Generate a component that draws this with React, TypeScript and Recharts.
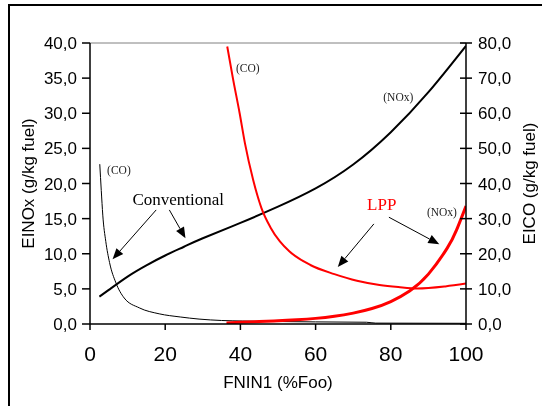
import React from 'react';
import { LineChart, Line, XAxis, YAxis, ReferenceLine, ReferenceDot } from 'recharts';

// FNIN1 (%Foo) vs emission index values
const conventionalNOx = [
  { fnin: 2.5, value: 3.9 }, { fnin: 5, value: 4.85 }, { fnin: 10, value: 6.75 },
  { fnin: 15, value: 8.35 }, { fnin: 20, value: 9.75 }, { fnin: 25, value: 11.0 },
  { fnin: 30, value: 12.2 }, { fnin: 40, value: 14.4 }, { fnin: 50, value: 16.7 },
  { fnin: 60, value: 19.3 }, { fnin: 70, value: 22.7 }, { fnin: 80, value: 27.3 },
  { fnin: 90, value: 33.0 }, { fnin: 100, value: 39.6 },
];
const conventionalCO = [
  { fnin: 2.6, value: 45.5 }, { fnin: 3.0, value: 38 }, { fnin: 3.4, value: 31 },
  { fnin: 4.2, value: 23.5 }, { fnin: 5.2, value: 17.5 }, { fnin: 6.9, value: 11.7 },
  { fnin: 9.1, value: 7.4 }, { fnin: 13.1, value: 4.6 }, { fnin: 18.4, value: 2.9 },
  { fnin: 24, value: 2.0 }, { fnin: 29, value: 1.4 }, { fnin: 35, value: 1.0 },
  { fnin: 40.6, value: 0.85 }, { fnin: 50, value: 0.7 }, { fnin: 60, value: 0.6 },
  { fnin: 73.5, value: 0.5 }, { fnin: 76, value: 0.25 }, { fnin: 100, value: 0.2 },
];
const lppCO = [
  { fnin: 36.5, value: 79 }, { fnin: 38, value: 70 }, { fnin: 39.8, value: 60 },
  { fnin: 41.2, value: 51.5 }, { fnin: 43.4, value: 41 }, { fnin: 45.6, value: 33 },
  { fnin: 48, value: 27.5 }, { fnin: 50.5, value: 23.5 }, { fnin: 53, value: 20.7 },
  { fnin: 58.6, value: 16.8 }, { fnin: 65, value: 14.2 }, { fnin: 71, value: 12.3 },
  { fnin: 77, value: 11.1 }, { fnin: 82, value: 10.5 }, { fnin: 87, value: 10.1 },
  { fnin: 94.5, value: 10.7 }, { fnin: 100, value: 11.5 },
];
const lppNOx = [
  { fnin: 36.3, value: 0.15 }, { fnin: 40, value: 0.25 }, { fnin: 45, value: 0.35 },
  { fnin: 50, value: 0.45 }, { fnin: 55, value: 0.6 }, { fnin: 60, value: 0.8 },
  { fnin: 65, value: 1.1 }, { fnin: 70, value: 1.55 }, { fnin: 75, value: 2.2 },
  { fnin: 80, value: 3.2 }, { fnin: 85, value: 4.7 }, { fnin: 90, value: 7.1 },
  { fnin: 95, value: 10.8 }, { fnin: 97.5, value: 13.4 }, { fnin: 100, value: 16.8 },
];

const xTicks = [0, 20, 40, 60, 80, 100];
const leftTicks = [0, 5, 10, 15, 20, 25, 30, 35, 40];
const rightTicks = [0, 10, 20, 30, 40, 50, 60, 70, 80];

// annotations (in left-axis data coordinates)
const textNotes = [
  { x: 4.55, y: 21.4, text: '(CO)', size: 11.5, color: '#222' },
  { x: 38.8, y: 35.9, text: '(CO)', size: 11.5, color: '#222' },
  { x: 78.0, y: 31.8, text: '(NOx)', size: 11.5, color: '#222' },
  { x: 89.6, y: 15.4, text: '(NOx)', size: 11.5, color: '#222' },
  { x: 11.3, y: 16.95, text: 'Conventional', size: 17, color: '#000' },
  { x: 73.7, y: 16.2, text: 'LPP', size: 17, color: '#ff0000' },
];
const arrows = [
  { from: { x: 17.6, y: 16.24 }, to: { x: 6.0, y: 9.2 } },
  { from: { x: 21.1, y: 16.24 }, to: { x: 25.4, y: 12.2 } },
  { from: { x: 75.5, y: 14.25 }, to: { x: 65.9, y: 8.1 } },
  { from: { x: 79.5, y: 15.2 }, to: { x: 92.9, y: 11.35 } },
];

const fmt = (v: number) => v.toFixed(1).replace('.', ',');

const ArrowShape = (props: any) => {
  const { x1, y1, x2, y2 } = props;
  const dx = x2 - x1;
  const dy = y2 - y1;
  const len = Math.sqrt(dx * dx + dy * dy) || 1;
  const ux = dx / len;
  const uy = dy / len;
  const hl = 11;
  const hw = 4.5;
  const bx = x2 - ux * hl;
  const by = y2 - uy * hl;
  const pts = `${x2},${y2} ${bx - uy * hw},${by + ux * hw} ${bx + uy * hw},${by - ux * hw}`;
  return (
    <g>
      <line x1={x1} y1={y1} x2={bx} y2={by} stroke="#000" strokeWidth={1} />
      <polygon points={pts} fill="#000" />
    </g>
  );
};

const RightTick = (props: any) => {
  const { x, y, payload } = props;
  return (
    <g>
      <line x1={x - 18} y1={y} x2={x - 6} y2={y} stroke="#000" strokeWidth={1.5} />
      <text x={x} y={y} dy="0.36em" textAnchor="start" fontSize={17} fill="#000">
        {fmt(payload.value)}
      </text>
    </g>
  );
};

export default function App() {
  return (
    <div style={{ position: 'fixed', left: 0, top: 0, width: 542, height: 406, overflow: 'hidden' }}>
      <div
        style={{
          position: 'absolute', left: 8, top: 4, width: 560, height: 420,
          border: '2px solid #000', boxSizing: 'border-box',
        }}
      />
      <div style={{ position: 'absolute', left: 0, top: 0 }}>
        <LineChart
          width={542}
          height={406}
          margin={{ top: 43, right: 10, bottom: 12, left: 10 }}
          style={{ fontFamily: '"Liberation Sans", Arial, sans-serif' }}
        >
          <XAxis
            dataKey="fnin"
            type="number"
            domain={[0, 100]}
            ticks={xTicks}
            allowDataOverflow
            height={70}
            tickSize={6}
            tickMargin={16}
            tick={{ fill: '#000', fontSize: 21 }}
            axisLine={{ stroke: '#000', strokeWidth: 1.5 }}
            tickLine={{ stroke: '#000', strokeWidth: 1.5 }}
            label={{
              content: (p: any) => (
                <text
                  x={p.viewBox.x + p.viewBox.width / 2}
                  y={p.viewBox.y + 64}
                  textAnchor="middle"
                  fontSize={17}
                  fill="#000"
                >
                  FNIN1 (%Foo)
                </text>
              ),
            }}
          />
          <YAxis
            yAxisId="left"
            orientation="left"
            domain={[0, 40]}
            ticks={leftTicks}
            allowDataOverflow
            width={80}
            tickSize={8}
            tickMargin={5}
            tickFormatter={fmt}
            tick={{ fill: '#000', fontSize: 17 }}
            axisLine={{ stroke: '#000', strokeWidth: 1.5 }}
            tickLine={{ stroke: '#000', strokeWidth: 1.5 }}
            label={{
              content: (p: any) => {
                const cx = p.viewBox.x + 18;
                const cy = p.viewBox.y + p.viewBox.height / 2;
                return (
                  <text
                    x={cx}
                    y={cy}
                    transform={`rotate(-90, ${cx}, ${cy})`}
                    textAnchor="middle"
                    dominantBaseline="central"
                    fontSize={17}
                    fill="#000"
                  >
                    EINOx (g/kg fuel)
                  </text>
                );
              },
            }}
          />
          <YAxis
            yAxisId="right"
            orientation="right"
            domain={[0, 80]}
            ticks={rightTicks}
            allowDataOverflow
            width={66}
            tickSize={6}
            tickMargin={6}
            tick={<RightTick />}
            tickLine={false}
            axisLine={{ stroke: '#000', strokeWidth: 1.5 }}
            label={{
              content: (p: any) => {
                const cx = p.viewBox.x + 63.5;
                const cy = p.viewBox.y + p.viewBox.height / 2;
                return (
                  <text
                    x={cx}
                    y={cy}
                    transform={`rotate(-90, ${cx}, ${cy})`}
                    textAnchor="middle"
                    dominantBaseline="central"
                    fontSize={17}
                    fill="#000"
                  >
                    EICO (g/kg fuel)
                  </text>
                );
              },
            }}
          />
          <ReferenceLine yAxisId="left" y={40} stroke="#808080" strokeWidth={1} />
          <Line
            data={conventionalCO}
            dataKey="value"
            yAxisId="right"
            type="monotone"
            stroke="#000"
            strokeWidth={1}
            dot={false}
            isAnimationActive={false}
          />
          <Line
            data={conventionalNOx}
            dataKey="value"
            yAxisId="left"
            type="natural"
            stroke="#000"
            strokeWidth={2}
            dot={false}
            isAnimationActive={false}
          />
          <Line
            data={lppCO}
            dataKey="value"
            yAxisId="right"
            type="monotone"
            stroke="#ff0000"
            strokeWidth={2}
            dot={false}
            isAnimationActive={false}
          />
          <Line
            data={lppNOx}
            dataKey="value"
            yAxisId="left"
            type="natural"
            stroke="#ff0000"
            strokeWidth={3}
            dot={false}
            isAnimationActive={false}
          />
          {arrows.map((a, i) => (
            <ReferenceLine
              key={`arrow-${i}`}
              yAxisId="left"
              segment={[a.from, a.to]}
              shape={ArrowShape}
            />
          ))}
          {textNotes.map((n, i) => (
            <ReferenceDot
              key={`note-${i}`}
              yAxisId="left"
              x={n.x}
              y={n.y}
              r={0}
              shape={(p: any) => (
                <text
                  x={p.cx}
                  y={p.cy}
                  fontSize={n.size}
                  fill={n.color}
                  fontFamily='"Liberation Serif", "Times New Roman", serif'
                >
                  {n.text}
                </text>
              )}
            />
          ))}
        </LineChart>
      </div>
    </div>
  );
}
